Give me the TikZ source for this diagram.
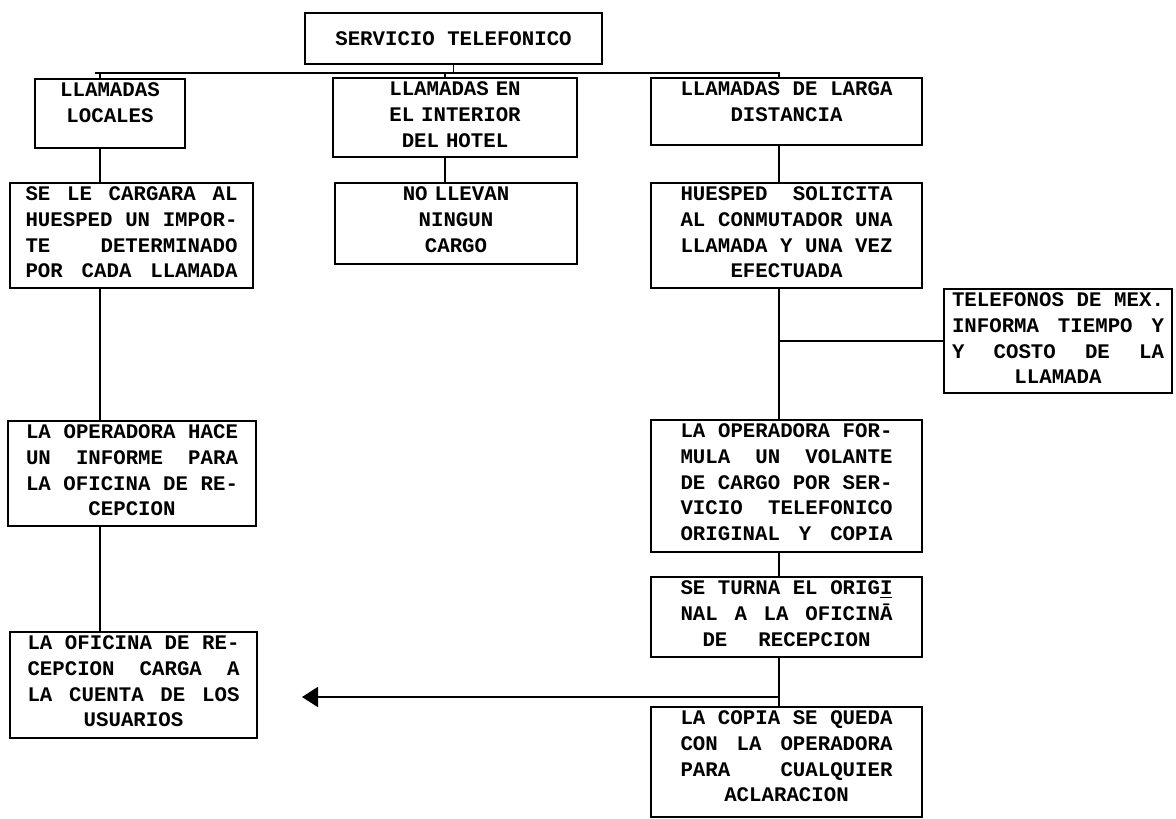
\documentclass[tikz,border=0pt]{standalone}
\usepackage{fontspec}
\setmainfont{Liberation Mono}
\usetikzlibrary{arrows.meta,positioning}
\newcommand{\jl}[1]{\makebox[4.24cm][s]{\spaceskip=\fontdimen2\font plus 1fil\relax #1}}
\newcommand{\fullsp}{\spaceskip=\fontdimen2\font\relax}

\begin{document}
\begin{tikzpicture}[x=0.02cm, y=-0.02cm, line width=1.1pt,
    >={Triangle[length=0.32cm,width=0.4cm]},
    txt/.style={font=\fontsize{11.8}{14.6}\selectfont\bfseries\fullsp},
    box/.style={draw, txt, anchor=north, align=center, text width=4.24cm,
        inner xsep=0pt, inner ysep=0.1cm, text height=0.26cm}]
        \useasboundingbox (0,0) rectangle (1176,818);
        \path
        (100,0) coordinate (lcol)
        (445,0) coordinate (mcol)
        (779,0) coordinate (rcol)
        (95,73) coordinate (busl)
        (780,73) coordinate (busr)
        (302,697) coordinate (ptip)
        ;

        \node[draw, txt, anchor=north, minimum width=5.94cm, minimum height=1.02cm] (top) at (453.5,12) {SERVICIO TELEFONICO};

        \node[box, text width=2.6cm, minimum width=3cm, text depth=0.92cm] (loc) at (110,78) {LLAMADAS\\LOCALES};
        \node[box, minimum width=4.88cm, text depth=1.12cm] (int) at (455,77) {LLAMADAS EN\\EL INTERIOR\\DEL HOTEL};
        \node[box, minimum width=5.42cm, text depth=0.88cm] (lar) at (786.5,77) {\jl{LLAMADAS DE LARGA}\\DISTANCIA};

        \node[box, minimum width=4.86cm, text depth=1.64cm] (car) at (131.5,182) {\jl{SE LE CARGARA AL}\\\jl{HUESPED UN IMPOR-}\\\jl{TE DETERMINADO}\\\jl{POR CADA LLAMADA}};
        \node[box, minimum width=4.84cm, text depth=1.16cm] (nol) at (456,182) {NO LLEVAN\\NINGUN\\CARGO};
        \node[box, minimum width=5.42cm, text depth=1.64cm] (hue) at (786.5,182) {\jl{HUESPED SOLICITA}\\\jl{AL CONMUTADOR UNA}\\\jl{LLAMADA Y UNA VEZ}\\EFECTUADA};
        \node[box, minimum width=4.56cm, text depth=1.62cm] (tel) at (1058,288) {\jl{TELEFONOS DE MEX.}\\\jl{INFORMA TIEMPO Y}\\\jl{Y COSTO DE LA}\\LLAMADA};

        \node[box, minimum width=4.96cm, text depth=1.64cm] (hac) at (132,420) {\jl{LA OPERADORA HACE}\\\jl{UN INFORME PARA}\\\jl{LA OFICINA DE RE-}\\CEPCION};
        \node[box, minimum width=5.42cm, text depth=2.18cm] (frm) at (786.5,419) {\jl{LA OPERADORA FOR-}\\\jl{MULA UN VOLANTE}\\\jl{DE CARGO POR SER-}\\\jl{VICIO TELEFONICO}\\\jl{ORIGINAL Y COPIA}};
        \node[box, minimum width=5.42cm, text depth=1.14cm] (tur) at (786.5,576) {\jl{SE TURNA EL ORIG\underline{I}}\\\jl{NAL A LA OFICIN\=A}\\DE\hspace{1.5em}RECEPCION};
        \node[box, minimum width=4.94cm, text depth=1.66cm] (ofi) at (133.5,631) {\jl{LA OFICINA DE RE-}\\\jl{CEPCION CARGA A}\\\jl{LA CUENTA DE LOS}\\USUARIOS};
        \node[box, minimum width=5.42cm, text depth=1.74cm] (cop) at (786.5,706) {\jl{LA COPIA SE QUEDA}\\\jl{CON LA OPERADORA}\\\jl{PARA CUALQUIER}\\ACLARACION};

        % bus
        \draw (top.south) -- (top.south |- busl);
        \draw (busl) -- (busr);
        \draw (lcol |- busl) -- (loc.north -| lcol);
        \draw (mcol |- busl) -- (int.north -| mcol);
        \draw (rcol |- busl) -- (lar.north -| rcol);

        \draw (loc.south -| lcol) -- (car.north -| lcol);
        \draw (car.south -| lcol) -- (hac.north -| lcol);
        \draw (hac.south -| lcol) -- (ofi.north -| lcol);
        \draw (int.south -| mcol) -- (nol.north -| mcol);
        \draw (lar.south -| rcol) -- (hue.north -| rcol);
        \draw (hue.south -| rcol) -- (frm.north -| rcol);
        \draw (tel.west -| rcol) -- (tel.west);
        \draw (frm.south -| rcol) -- (tur.north -| rcol);
        \draw (tur.south -| rcol) -- (cop.north -| rcol);
        \draw[->] (rcol |- ptip) -- (ptip);
\end{tikzpicture}
\end{document}
